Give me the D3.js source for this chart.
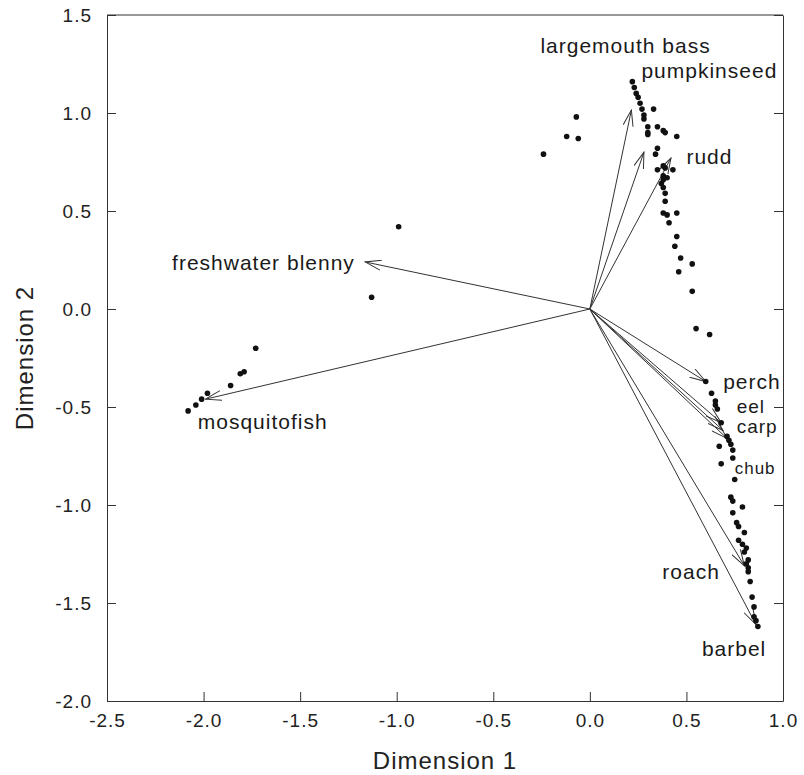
<!DOCTYPE html>
<html lang="en">

<head>
	<meta charset="UTF-8">
	<script src="https://cdn.jsdelivr.net/npm/d3@7"></script>
	<title>Biplot - Dimension 1 vs Dimension 2</title>
	<style>
		body {
			margin: 0;
			background: #fff;
			font-family: "Liberation Sans", Arial, sans-serif;
		}

		.tick text {
			font-size: 19px;
			letter-spacing: 1px;
			fill: #222;
		}

		.species {
			fill: #1a1a1a;
			letter-spacing: 1px;
		}
	</style>
</head>

<body>
	<div id="chart"></div>
	<script>
		// site scores (dimension 1, dimension 2)
		const siteX = [0.22, 0.23, 0.24, 0.25, 0.26, 0.27, 0.28, 0.28, 0.33, 0.30, 0.30, 0.30, 0.35, 0.38, 0.39, 0.45,
			0.35, 0.34, 0.38, 0.35, 0.39, 0.38, 0.43, 0.38, 0.40, 0.37, 0.38, 0.39, 0.39, 0.38, 0.40, 0.45, 0.41,
			0.45, 0.44, 0.47, 0.53, 0.46, 0.53, 0.55, 0.62,
			0.60, 0.63, 0.65, 0.65, 0.66, 0.68, 0.71, 0.72, 0.73, 0.74, 0.74, 0.67, 0.68, 0.75, 0.73, 0.74, 0.79,
			0.74, 0.76, 0.77, 0.80, 0.77, 0.79, 0.81, 0.80, 0.82, 0.81, 0.82, 0.82, 0.83, 0.84, 0.85, 0.85, 0.86, 0.87,
			-0.07, -0.12, -0.06, -0.24, -0.99, -1.13,
			-2.08, -2.04, -2.01, -1.98, -1.86, -1.81, -1.79, -1.73];
		const siteY = [1.16, 1.13, 1.10, 1.08, 1.05, 1.02, 0.99, 0.97, 1.02, 0.93, 0.90, 0.89, 0.93, 0.91, 0.90, 0.88,
			0.82, 0.79, 0.73, 0.71, 0.72, 0.68, 0.71, 0.66, 0.67, 0.64, 0.62, 0.59, 0.55, 0.49, 0.48, 0.49, 0.44,
			0.37, 0.32, 0.26, 0.23, 0.19, 0.09, -0.10, -0.13,
			-0.37, -0.43, -0.47, -0.49, -0.51, -0.58, -0.65, -0.67, -0.69, -0.72, -0.76, -0.70, -0.79, -0.87, -0.96, -0.98, -1.01,
			-1.04, -1.09, -1.11, -1.14, -1.18, -1.20, -1.22, -1.24, -1.28, -1.30, -1.32, -1.34, -1.39, -1.47, -1.52, -1.57, -1.59, -1.62,
			0.98, 0.88, 0.87, 0.79, 0.42, 0.06,
			-0.52, -0.49, -0.46, -0.43, -0.39, -0.33, -0.32, -0.20];

		// species vectors
		const species = ['largemouth bass', 'pumpkinseed', 'rudd', 'freshwater blenny', 'mosquitofish',
			'perch', 'eel', 'carp', 'chub', 'roach', 'barbel'];
		const speciesX = [0.215, 0.28, 0.42, -1.163, -1.99, 0.60, 0.68, 0.71, 0.69, 0.80, 0.86];
		const speciesY = [1.015, 0.80, 0.77, 0.24, -0.46, -0.37, -0.58, -0.66, -0.62, -1.31, -1.61];
		// where each species name sits (data units, text start / baseline)
		const labelX = [-0.256, 0.267, 0.50, -2.163, -2.03, 0.69, 0.76, 0.76, 0.75, 0.375, 0.58];
		const labelY = [1.306, 1.18, 0.74, 0.20, -0.61, -0.41, -0.53, -0.635, -0.84, -1.38, -1.77];
		const labelSize = [21, 21, 21, 21, 21, 21, 19, 19, 17, 21, 21];

		const xTicks = [-2.5, -2.0, -1.5, -1.0, -0.5, 0.0, 0.5, 1.0];
		const yTicks = [-2.0, -1.5, -1.0, -0.5, 0.0, 0.5, 1.0, 1.5];

		const width = 804;
		const height = 775;
		const margin = { top: 15, right: 21, bottom: 74, left: 107 };

		const svg = d3.select('#chart')
			.append('svg')
			.attr('width', width)
			.attr('height', height)

		const x = d3.scaleLinear().domain([-2.5, 1.0]).range([margin.left, width - margin.right]);
		const y = d3.scaleLinear().domain([-2.0, 1.5]).range([height - margin.bottom, margin.top]);

		const fmt = d => d.toFixed(1); // plain hyphen minus like the original

		// axes (ticks point inward)
		svg.append('g')
			.attr('transform', `translate(0, ${height - margin.bottom})`)
			.call(d3.axisBottom(x).tickValues(xTicks).tickFormat(fmt).tickSizeInner(-9).tickSizeOuter(0).tickPadding(13))
			.call(g => g.select('.domain').attr('stroke', '#333'))
			.call(g => g.selectAll('.tick line').attr('stroke', '#333'));
		svg.append('g')
			.attr('transform', `translate(${margin.left}, 0)`)
			.call(d3.axisLeft(y).tickValues(yTicks).tickFormat(fmt).tickSizeInner(-9).tickSizeOuter(0).tickPadding(15))
			.call(g => g.select('.domain').attr('stroke', '#333'))
			.call(g => g.selectAll('.tick line').attr('stroke', '#333'));
		svg.append('g')
			.attr('transform', `translate(${width - margin.right}, 0)`)
			.call(d3.axisRight(y).tickValues(yTicks).tickFormat('').tickSizeInner(-9).tickSizeOuter(0))
			.call(g => g.select('.domain').attr('stroke', '#333'))
			.call(g => g.selectAll('.tick line').attr('stroke', '#333'));
		svg.append('line')
			.attr('x1', margin.left).attr('x2', width - margin.right)
			.attr('y1', margin.top).attr('y2', margin.top)
			.attr('stroke', '#333')

		svg.selectAll('.tick text').attr('font-family', '"Liberation Sans", Arial, sans-serif');

		// axis titles
		svg.append('text')
			.attr('x', (margin.left + width - margin.right) / 2)
			.attr('y', height - 6)
			.attr('text-anchor', 'middle')
			.attr('font-size', 24)
			.attr('letter-spacing', 1)
			.attr('fill', '#222')
			.text('Dimension 1');
		svg.append('text')
			.attr('transform', `translate(33, ${(margin.top + height - margin.bottom) / 2}) rotate(-90)`)
			.attr('text-anchor', 'middle')
			.attr('font-size', 24)
			.attr('letter-spacing', 1)
			.attr('fill', '#222')
			.text('Dimension 2');

		// arrowhead
		svg.append('defs').append('marker')
			.attr('id', 'head')
			.attr('viewBox', '0 0 17 11')
			.attr('refX', 16).attr('refY', 5.5)
			.attr('markerWidth', 17).attr('markerHeight', 11)
			.attr('markerUnits', 'userSpaceOnUse')
			.attr('orient', 'auto')
			.append('path')
			.attr('d', 'M0,0.5 L16,5.5 L0,10.5')
			.attr('fill', 'none')
			.attr('stroke', '#333')
			.attr('stroke-width', 1);

		const vec = species.map((s, i) => ({ name: s, x: speciesX[i], y: speciesY[i], lx: labelX[i], ly: labelY[i], size: labelSize[i] }));

		svg.selectAll('.vector')
			.data(vec)
			.enter()
			.append('line')
			.attr('class', 'vector')
			.attr('x1', x(0)).attr('y1', y(0))
			.attr('x2', d => x(d.x)).attr('y2', d => y(d.y))
			.attr('stroke', '#333')
			.attr('stroke-width', 1)
			.attr('marker-end', 'url(#head)');

		// sites
		svg.selectAll('.site')
			.data(siteX.map((v, i) => [v, siteY[i]]))
			.enter()
			.append('circle')
			.attr('class', 'site')
			.attr('cx', d => x(d[0]))
			.attr('cy', d => y(d[1]))
			.attr('r', 2.8)
			.attr('fill', '#111');

		svg.selectAll('.species')
			.data(vec)
			.enter()
			.append('text')
			.attr('class', 'species')
			.attr('x', d => x(d.lx))
			.attr('y', d => y(d.ly))
			.attr('font-size', d => d.size)
			.text(d => d.name);
	</script>
</body>

</html>
